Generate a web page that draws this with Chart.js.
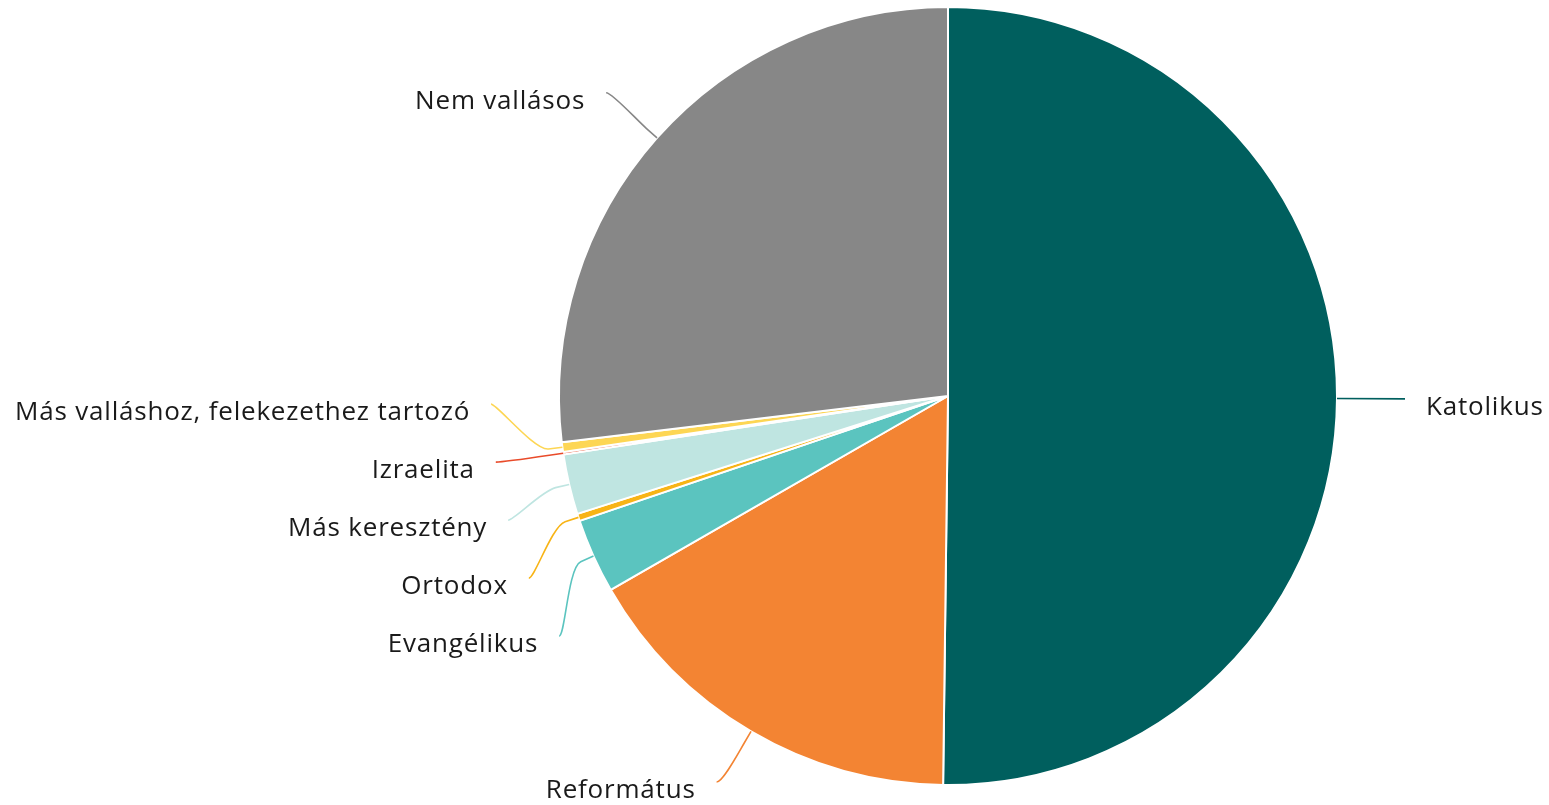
<!DOCTYPE html>
<html>
<head>
<meta charset="utf-8">
<script src="https://cdn.jsdelivr.net/npm/chart.js@4/dist/chart.umd.min.js"></script>
<style>
    html, body { margin: 0; padding: 0; background: #ffffff; }
    #wrap { width: 1549px; height: 805px; position: relative; }
</style>
</head>
<body>
<div id="wrap"><canvas id="pie"></canvas></div>
<script>
    var categories = ['Katolikus', 'Református', 'Evangélikus', 'Ortodox', 'Más keresztény',
        'Izraelita', 'Más valláshoz, felekezethez tartozó', 'Nem vallásos'];
    var shares = [50.2, 16.5, 3.1, 0.3, 2.5, 0.1, 0.4, 26.9];
    var sliceColors = ['#005f5e', '#f38433', '#5bc4bf', '#f8b416', '#bfe5e1', '#e94b2a', '#fdd654', '#878787'];

    // leader lines + labels, placed from the arc elements
    var leaderLabels = {
        id: 'leaderLabels',
        afterDraw: function (chart, args, opts) {
            var ctx = chart.ctx;
            var arcs = chart.getDatasetMeta(0).data;
            var items = [];
            arcs.forEach(function (arc, i) {
                var p = arc.getProps(['x', 'y', 'startAngle', 'endAngle', 'outerRadius'], true);
                var mid = (p.startAngle + p.endAngle) / 2;
                var reach = p.outerRadius + opts.distance;
                items.push({
                    index: i, cx: p.x, cy: p.y, reach: reach, r: p.outerRadius,
                    cos: Math.cos(mid), sin: Math.sin(mid),
                    side: Math.cos(mid) >= 0 ? 1 : -1,
                    ideal: p.y + Math.sin(mid) * reach
                });
            });

            // spread crowded labels: average of a push-down and a push-up pass
            [1, -1].forEach(function (side) {
                var group = items.filter(function (it) { return it.side === side; });
                group.sort(function (a, b) { return a.ideal - b.ideal; });
                var down = [], up = [];
                group.forEach(function (it, k) {
                    down[k] = k === 0 ? it.ideal : Math.max(it.ideal, down[k - 1] + opts.spacing);
                });
                for (var k = group.length - 1; k >= 0; k--) {
                    up[k] = k === group.length - 1 ? group[k].ideal : Math.min(group[k].ideal, up[k + 1] - opts.spacing);
                }
                group.forEach(function (it, k) {
                    it.ly = (down[k] + up[k]) / 2;
                });
            });

            ctx.save();
            items.forEach(function (it) {
                var dy = it.ly - it.cy;
                var dx = Math.sqrt(Math.max(it.reach * it.reach - dy * dy, 0));
                var ax = it.cx + it.side * dx;
                var ay = Math.min(it.ly, chart.height - opts.bottomRoom);
                var ex = it.cx + it.cos * it.r, ey = it.cy + it.sin * it.r;
                var kx = ex + it.cos * opts.crook, ky = ey + it.sin * opts.crook;
                var c2x = ex + it.cos * opts.crook * 2, c2y = ey + it.sin * opts.crook * 2;

                ctx.strokeStyle = sliceColors[it.index];
                ctx.lineWidth = 1.6;
                ctx.beginPath();
                ctx.moveTo(ax, ay);
                if (Math.abs(ay - ky) < 3) {
                    ctx.lineTo(ex, ey);
                } else {
                    ctx.bezierCurveTo(ax - it.side * 6, ay, c2x, c2y, kx, ky);
                    ctx.lineTo(ex, ey);
                }
                ctx.stroke();

                ctx.fillStyle = '#1a1a1a';
                ctx.font = opts.font;
                ctx.letterSpacing = opts.letterSpacing;
                ctx.textBaseline = 'alphabetic';
                ctx.textAlign = it.side > 0 ? 'left' : 'right';
                ctx.fillText(categories[it.index], ax + it.side * opts.gap, ay + opts.textDrop);
            });
            ctx.restore();
        }
    };

    var ctx = document.getElementById('pie').getContext('2d');
    var chart = new Chart(ctx, {
        type: 'pie',
        data: {
            labels: categories,
            datasets: [{
                data: shares,
                backgroundColor: sliceColors,
                borderColor: '#ffffff',
                borderWidth: 2,
                hoverBorderWidth: 2
            }]
        },
        options: {
            responsive: true,
            maintainAspectRatio: false,
            animation: false,
            layout: { padding: { left: 558, right: 211, top: 6, bottom: 19 } },
            plugins: {
                legend: { display: false },
                tooltip: { enabled: false },
                leaderLabels: {
                    distance: 68,
                    spacing: 58,
                    crook: 14,
                    gap: 21,
                    textDrop: 16,
                    bottomRoom: 23,
                    font: '26px "Open Sans"',
                    letterSpacing: '0.8px'
                }
            }
        },
        plugins: [leaderLabels]
    });
</script>
</body>
</html>
